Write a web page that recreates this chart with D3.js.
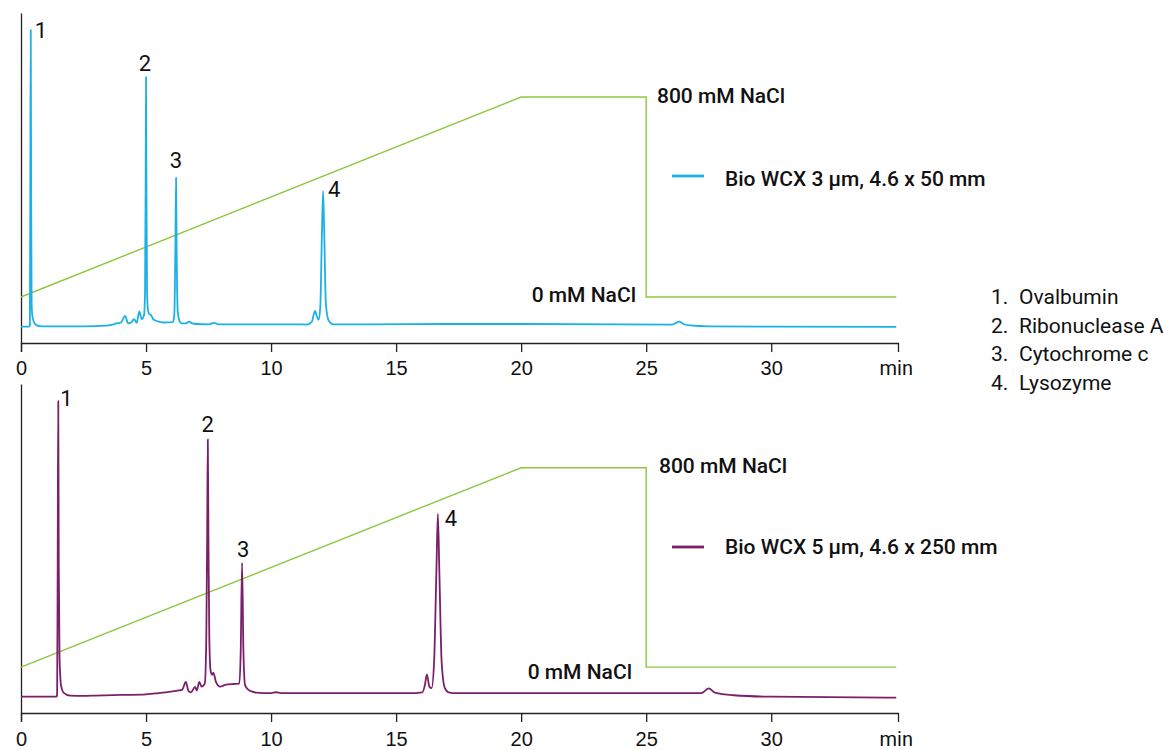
<!DOCTYPE html>
<html>
<head>
<meta charset="utf-8">
<script src="https://cdn.jsdelivr.net/npm/d3@7"></script>
<style>
  html, body { margin: 0; padding: 0; background: #fff; }
  svg { display: block; font-family: Roboto, "Noto Sans", sans-serif; }
</style>
</head>
<body>
<svg id="chart" width="1164" height="750"></svg>
<script>
// ---------------- DATA ----------------
const timeTicks = [0, 5, 10, 15, 20, 25, 30];
const xUnit = "min";

// NaCl gradient program (min, mM)
const gradientTime = [0, 20, 25, 25, 35];
const gradientNaCl = [0, 800, 800, 0, 0];
const gradientLabels = ["800 mM NaCl", "0 mM NaCl"];

const columnNames = ["Bio WCX 3 µm, 4.6 x 50 mm", "Bio WCX 5 µm, 4.6 x 250 mm"];
const compounds = ["Ovalbumin", "Ribonuclease A", "Cytochrome c", "Lysozyme"];
const peakNumbers = ["1", "2", "3", "4"];

// Chromatogram 1 (Bio WCX 3 µm, 4.6 x 50 mm): [time min, relative signal]
const trace3um = [
  [0, 0.1], [0.33, 0.1], [0.355, 0.4], [0.372, 45], [0.39, 100], [0.405, 50], [0.425, 8], [0.45, 4], [0.5, 2],
  [0.6, 0.7], [0.75, 0.3], [1, 0.2], [2, 0.2], [3, 0.3], [3.5, 0.5], [3.83, 1.2], [4.0, 1.5],
  [4.16, 3.7], [4.29, 1.2], [4.4, 1.5], [4.52, 2.6], [4.63, 1.4], [4.73, 5.2], [4.83, 2.6],
  [4.92, 4], [4.96, 12], [4.985, 50], [5.0, 84.2], [5.015, 50], [5.04, 12], [5.08, 5.5],
  [5.13, 4.3], [5.2, 4.0], [5.3, 2.5], [5.43, 2.0], [5.7, 1.5], [6.07, 1.6], [6.13, 4],
  [6.175, 28], [6.2, 50.2], [6.225, 25], [6.27, 5], [6.35, 1.8], [6.43, 1.2], [6.6, 1.2],
  [6.72, 1.8], [6.85, 1.2], [7.03, 1.0], [7.5, 0.9], [7.72, 1.4], [7.9, 0.9], [9, 0.9],
  [10, 0.9], [11, 0.9], [11.43, 0.8], [11.62, 1.6], [11.76, 5.4], [11.84, 3.4], [11.9, 2.4],
  [11.97, 7], [12.03, 30], [12.08, 45.8], [12.13, 30], [12.19, 8], [12.29, 2.4], [12.4, 1.2],
  [12.5, 0.9], [14, 0.9], [17, 1.0], [20, 1.0], [24, 0.9], [26.05, 0.8], [26.2, 1.4],
  [26.32, 1.8], [26.5, 1.0], [26.76, 0.5], [27.5, 0.2], [30, 0.1], [35, 0.0]
];

// Chromatogram 2 (Bio WCX 5 µm, 4.6 x 250 mm): [time min, relative signal]
const trace5um = [
  [0, 0.1], [1.42, 0.1], [1.445, 1], [1.467, 45], [1.49, 100], [1.51, 45], [1.54, 14], [1.57, 7],
  [1.6, 4], [1.7, 1.5], [1.96, 0.5], [2.5, 0.4], [3, 0.5], [4, 0.7], [5, 0.9], [5.5, 1.3],
  [6.0, 1.8], [6.3, 2.2], [6.45, 2.5], [6.59, 5.1], [6.7, 2.0], [6.8, 1.6], [6.96, 3.4],
  [7.03, 2.2], [7.13, 5.1], [7.22, 3.5], [7.35, 4.5], [7.41, 20], [7.445, 55], [7.47, 87],
  [7.495, 55], [7.53, 20], [7.58, 9], [7.64, 7.5], [7.69, 8.2], [7.8, 5], [7.96, 3.5],
  [8.2, 4.2], [8.5, 4.4], [8.73, 4.5], [8.785, 15], [8.84, 45.3], [8.895, 15], [8.96, 4],
  [9.1, 2.4], [9.25, 1.8], [9.4, 1.5], [10.0, 1.3], [10.2, 1.6], [10.4, 1.3], [12, 1.3],
  [14, 1.3], [15.5, 1.3], [16.05, 1.6], [16.15, 4], [16.23, 7.6], [16.33, 3.5], [16.42, 3.0],
  [16.52, 12], [16.61, 42], [16.67, 61.8], [16.73, 42], [16.82, 12], [16.95, 3], [17.1, 1.6],
  [17.4, 1.3], [20, 1.3], [23, 1.3], [27.2, 1.3], [27.5, 2.9], [27.75, 1.5], [28.5, 0.6],
  [30, 0.1], [35, -0.2]
];

// Peak apexes [time, signal] for the number labels
const peaks3um = [[0.39, 100], [5.0, 84.2], [6.2, 50.2], [12.08, 45.8]];
const peaks5um = [[1.49, 100], [7.47, 87], [8.84, 45.3], [16.67, 61.8]];

// ---------------- LAYOUT / STYLE ----------------
const colors = { c3: "#1BB1E7", c5: "#7B1F6A", grad: "#8DC63F", axis: "#222", text: "#111" };
const svg = d3.select("#chart");
const x = d3.scaleLinear().domain([0, 35.07]).range([21, 898]);

const panels = [
  { top: 13, bottom: 343, trace: trace3um, peaks: peaks3um, color: colors.c3, name: columnNames[0],
    labelPos: [["start", 4, 8], ["middle", -1, -6], ["middle", 0, -10], ["start", 5, 6]],
    g800: [657, 103], g0: [636, 302], legend: [672, 704, 176, 725, 186], tickBase: 375 },
  { top: 384, bottom: 713, trace: trace5um, peaks: peaks5um, color: colors.c5, name: columnNames[1],
    labelPos: [["start", 2, 5], ["middle", 0, -7], ["middle", 1, -6], ["start", 7, 12]],
    g800: [659, 473], g0: [632, 679], legend: [672, 704, 547, 725, 554], tickBase: 746 }
];

panels.forEach(p => {
  const g = svg.append("g");
  const y = d3.scaleLinear().domain([-5.4, 105.7]).range([p.bottom, p.top]);
  const gy = d3.scaleLinear().domain([-184, 1136]).range([p.bottom, p.top]);

  // axes
  const xAxis = d3.axisBottom(x).tickValues(timeTicks).tickSize(9).tickPadding(6).tickFormat(d3.format("d"));
  const ax = g.append("g").attr("transform", `translate(0,${p.bottom})`).call(xAxis);
  ax.select(".domain").attr("stroke", colors.axis).attr("stroke-width", 1.3);
  ax.selectAll(".tick line").attr("stroke", colors.axis).attr("stroke-width", 1.3);
  ax.selectAll(".tick text").attr("font-size", 20).attr("fill", colors.text)
    .attr("y", null).attr("dy", null)
    .attr("transform", `translate(0,${p.tickBase - p.bottom})`);
  g.append("text").attr("x", x(35.0)).attr("y", p.tickBase).attr("text-anchor", "middle")
    .attr("font-size", 20).attr("fill", colors.text).text(xUnit);

  const yAxis = d3.axisLeft(y).tickValues([]).tickSize(0);
  const ay = g.append("g").attr("transform", `translate(${x(0)},0)`).call(yAxis);
  ay.select(".domain").attr("stroke", colors.axis).attr("stroke-width", 1.3);

  // gradient
  const gradData = gradientTime.map((t, i) => [t, gradientNaCl[i]]);
  g.append("path").datum(gradData)
    .attr("d", d3.line().x(d => x(d[0])).y(d => gy(d[1])))
    .attr("fill", "none").attr("stroke", colors.grad).attr("stroke-width", 1.4);

  // trace
  g.append("path").datum(p.trace)
    .attr("d", d3.line().x(d => x(d[0])).y(d => y(d[1])).curve(d3.curveMonotoneX))
    .attr("fill", "none").attr("stroke", p.color).attr("stroke-width", 1.8)
    .attr("stroke-linejoin", "round");

  // peak labels
  p.peaks.forEach((pk, i) => {
    const lp = p.labelPos[i];
    g.append("text").attr("x", x(pk[0]) + lp[1]).attr("y", y(pk[1]) + lp[2])
      .attr("text-anchor", lp[0]).attr("font-size", 22).attr("fill", colors.text)
      .text(peakNumbers[i]);
  });

  // gradient labels
  g.append("text").attr("x", p.g800[0]).attr("y", p.g800[1]).attr("font-size", 21)
    .attr("font-weight", 500).attr("fill", colors.text).text(gradientLabels[0]);
  g.append("text").attr("x", p.g0[0]).attr("y", p.g0[1]).attr("font-size", 21)
    .attr("text-anchor", "end").attr("font-weight", 500).attr("fill", colors.text).text(gradientLabels[1]);

  // legend
  const L = p.legend;
  g.append("line").attr("x1", L[0]).attr("x2", L[1]).attr("y1", L[2]).attr("y2", L[2])
    .attr("stroke", p.color).attr("stroke-width", 2.8);
  g.append("text").attr("x", L[3]).attr("y", L[4]).attr("font-size", 21).attr("font-weight", 500)
    .attr("fill", colors.text).text(p.name);
});

// compound list
const list = svg.append("g");
compounds.forEach((c, i) => {
  const yy = 304 + i * 28.7;
  list.append("text").attr("x", 991).attr("y", yy).attr("font-size", 21).attr("fill", colors.text).text(peakNumbers[i] + ".");
  list.append("text").attr("x", 1019).attr("y", yy).attr("font-size", 21).attr("fill", colors.text).text(c);
});
</script>
</body>
</html>
